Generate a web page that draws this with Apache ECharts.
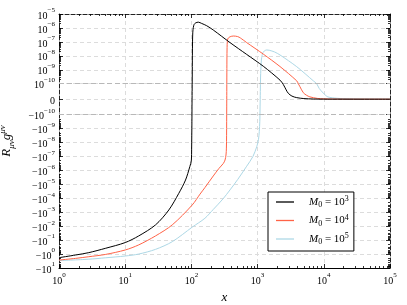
<!DOCTYPE html>
<html><head><meta charset="utf-8">
<script src="https://cdn.jsdelivr.net/npm/echarts@6/dist/echarts.min.js"></script>
<style>html,body{margin:0;padding:0;background:#fff}#c{width:407px;height:305px}</style>
</head><body><div id="c"></div>
<script>
// ---- data (x, R g) ----
const seriesNames = ['M0=1e3', 'M0=1e4', 'M0=1e5'];
const legendExps = [3, 4, 5];
const colors = ['#000000', '#ff6347', '#add8e6'];

const xBlack = [1,1.78,2.82,5,10,16,28.7,45.6,64.5,81.5,94.6,100,100.8,101.3,101.8,102.1,102.3,102.6,103,103.5,104,105,107,110,116,127,143,170,214,383,684,1220,2180,2445,2700,2910,3300,3900,5000,7000,10000,100000];
const yBlack = [-1.82,-1.17,-0.79,-0.39,-0.15,-0.05,-8.1e-3,-6.9e-4,-4.4e-5,-4.9e-6,-5.4e-7,-1.8e-7,-3e-8,-3e-9,-3e-10,-5e-11,0,5e-11,3e-10,1e-8,1e-7,5e-7,1.1e-6,1.8e-6,2.3e-6,2.6e-6,2.1e-6,1.45e-6,7.1e-7,8.9e-8,1.26e-8,1.78e-9,1.8e-10,9.5e-11,6e-11,3.8e-11,2e-11,1e-11,4e-12,1e-12,3e-13,0];

const xRed = [1,1.78,2.82,5,10,16,28.7,51.3,103,135,160,214,260,303,322,333,338,340,341,341.6,342,342.4,343,344,346,349,355,370,400,430,500,550,608,684,1220,2180,3900,4120,4370,4900,5500,6160,8000,10000,20000,100000];
const yRed = [-2.69,-2.04,-1.55,-1.07,-0.51,-0.22,-0.05,-8.1e-3,-3.0e-4,-5.0e-5,-1.7e-5,-2.5e-6,-7.3e-7,-3.2e-7,-1.8e-7,-7.9e-8,-2.5e-8,-3e-9,-3e-10,-5e-11,0,5e-11,3e-10,5e-9,4e-8,1.1e-7,1.66e-7,2.1e-7,2.5e-7,2.63e-7,2.4e-7,1.9e-7,1.35e-7,8.9e-8,1.32e-8,1.7e-9,1.6e-10,1e-10,8e-11,4.2e-11,2.5e-11,1.5e-11,5e-12,2e-12,3e-13,0];

const xBlue = [1,2.82,5,10,16,28.7,51.3,103,160,214,300,383,500,684,850,970,1030,1060,1080,1090,1095,1100,1108,1120,1140,1170,1200,1260,1372,1500,1800,2180,3900,6950,7800,8500,9800,11500,15700,20000,30000,100000];
const yBlue = [-2.95,-2.34,-1.86,-1.38,-1.0,-0.46,-0.13,-0.0117,-2.7e-3,-6.3e-4,-1.1e-4,-2.5e-5,-4.5e-6,-5e-7,-1e-7,-2e-8,-6.3e-9,-1.6e-9,-3e-10,-5e-11,0,5e-11,3e-10,1e-9,5e-9,1.1e-8,1.66e-8,2.2e-8,2.63e-8,2.5e-8,1.9e-8,1.15e-8,1.66e-9,1.6e-10,1e-10,7e-11,4e-11,1.5e-11,6e-12,3e-12,1e-12,0];

const xTicks = [1, 10, 100, 1000, 10000, 100000];
const yTicks = [1e-5,1e-6,1e-7,1e-8,1e-9,1e-10,0,-1e-10,-1e-9,-1e-8,-1e-7,-1e-6,-1e-5,-1e-4,-1e-3,-1e-2,-1e-1,-1,-10];

// ---- symlog transform (linthresh 1e-10, linscale 1) ----
const LT = 1e-10, LS = 1 / (1 - 1 / 10);
function sym(v) { const a = Math.abs(v); if (a <= LT) return v / LT * LS; return Math.sign(v) * (LS + Math.log10(a / LT)); }

const yMajor = yTicks.map(sym);
const yMinor = [];
for (let k = -10; k <= -6; k++) for (let m = 2; m <= 9; m++) yMinor.push(sym(m * Math.pow(10, k)));
for (let k = -10; k <= 0; k++) for (let m = 2; m <= 9; m++) yMinor.push(sym(-m * Math.pow(10, k)));
const xMinor = [];
for (let k = 0; k <= 4; k++) for (let m = 2; m <= 9; m++) xMinor.push(m * Math.pow(10, k));

const FONT = 'Liberation Serif';
const rich = {
  b: { fontFamily: FONT, fontSize: 10, color: '#000', lineHeight: 14, verticalAlign: 'bottom' },
  s: { fontFamily: FONT, fontSize: 7, color: '#000', lineHeight: 8, verticalAlign: 'top' }
};
function yLabel(t) {
  let best = 0, bd = 1e9;
  yMajor.forEach((m, i) => { const d = Math.abs(m - t); if (d < bd) { bd = d; best = i; } });
  const v = yTicks[best];
  if (v === 0) return '{b|0}';
  const e = Math.round(Math.log10(Math.abs(v)));
  return '{b|' + (v < 0 ? '\u221210' : '10') + '}{s|' + (e < 0 ? '\u2212' : '') + Math.abs(e) + '}';
}
function xLabel(v) {
  const e = Math.round(Math.log10(v));
  return '{b|10}{s|' + e + '}';
}

const xs = [xBlack, xRed, xBlue], ys = [yBlack, yRed, yBlue];
const series = seriesNames.map((n, i) => ({
  name: n, type: 'line', xAxisIndex: 0, yAxisIndex: 0,
  data: xs[i].map((x, j) => [x, sym(ys[i][j])]),
  showSymbol: false, symbol: 'none', smooth: 0.3, z: 5 - i,
  lineStyle: { color: colors[i], width: 1 }, itemStyle: { color: colors[i] }
}));
series[0].markLine = {
  silent: true, symbol: 'none', label: { show: false },
  lineStyle: { color: '#b8b8b8', type: [5, 3], width: 1 },
  data: [{ yAxis: sym(1e-10) }, { yAxis: sym(-1e-10) }]
};

const spineDash = { color: '#222', width: 1, type: [4, 2] };
function xAx(pos, major) {
  return {
    type: 'log', logBase: 10, min: 1, max: 100000, position: pos, gridIndex: 0,
    axisLine: { show: major, onZero: false, lineStyle: pos === 'bottom' ? { color: '#000', width: 1 } : spineDash },
    axisTick: { show: true, inside: true, length: major ? 4 : 2, customValues: major ? xTicks : xMinor, lineStyle: { color: '#000', width: 0.8 } },
    axisLabel: { show: major && pos === 'bottom', customValues: xTicks, margin: 4, formatter: xLabel, rich: rich },
    splitLine: { show: major && pos === 'bottom', lineStyle: { color: '#dcdcdc', type: [4, 3], width: 1 } },
    name: (major && pos === 'bottom') ? 'x' : '', nameLocation: 'middle', nameGap: 15,
    nameTextStyle: { fontFamily: FONT, fontStyle: 'italic', fontSize: 13, color: '#000' }
  };
}
function yAx(pos, major) {
  const lab = major && pos === 'left';
  return {
    type: 'value', min: sym(-10), max: sym(1e-5), position: pos, gridIndex: 0,
    axisLine: { show: major, onZero: false, lineStyle: spineDash },
    axisTick: { show: true, inside: true, length: major ? 4 : 2, customValues: major ? yMajor : yMinor, lineStyle: { color: '#000', width: 0.8 } },
    axisLabel: { show: lab, customValues: yMajor, margin: 4, formatter: yLabel, rich: rich },
    splitLine: { show: lab, lineStyle: { color: '#dcdcdc', type: [4, 3], width: 1 } },
    name: lab ? '{r|R}{sb|\u03bc\u03bd}{r|g}{sp|\u03bc\u03bd}' : '', nameLocation: 'middle', nameGap: 43, nameRotate: 90,
    nameTextStyle: { rich: {
      r: { fontFamily: FONT, fontStyle: 'italic', fontSize: 13, color: '#000', lineHeight: 18, verticalAlign: 'middle' },
      sb: { fontFamily: FONT, fontStyle: 'italic', fontSize: 9, color: '#000', lineHeight: 9, verticalAlign: 'bottom' },
      sp: { fontFamily: FONT, fontStyle: 'italic', fontSize: 9, color: '#000', lineHeight: 9, verticalAlign: 'top' }
    } }
  };
}

const chart = echarts.init(document.getElementById('c'), null, { renderer: 'canvas' });
chart.setOption({
  animation: false,
  backgroundColor: '#fff',
  grid: { left: 59, right: 17, top: 14, bottom: 37, containLabel: false, outerBoundsMode: 'none' },
  xAxis: [xAx('bottom', true), xAx('bottom', false), xAx('top', true), xAx('top', false)],
  yAxis: [yAx('left', true), yAx('left', false), yAx('right', true), yAx('right', false)],
  legend: {
    left: 268, top: 192, orient: 'vertical', data: seriesNames,
    backgroundColor: '#fff', borderColor: '#000', borderWidth: 1, borderRadius: 0,
    padding: [3, 5, 5, 8], itemGap: 4.5, itemWidth: 18, itemHeight: 1.3, icon: 'rect',
    formatter: function (n) {
      const e = legendExps[seriesNames.indexOf(n)];
      return '{m|M}{sub|0}{n| = 10}{sup|' + e + '}';
    },
    textStyle: { padding: [0, 0, 0, 10], rich: {
      m: { fontFamily: FONT, fontStyle: 'italic', fontSize: 11, color: '#000', lineHeight: 14, verticalAlign: 'middle' },
      n: { fontFamily: FONT, fontSize: 11, color: '#000', lineHeight: 14, verticalAlign: 'middle' },
      sub: { fontFamily: FONT, fontSize: 8, color: '#000', lineHeight: 8, verticalAlign: 'bottom' },
      sup: { fontFamily: FONT, fontSize: 8, color: '#000', lineHeight: 8, verticalAlign: 'top' }
    } }
  },
  series: series
});
</script></body></html>
